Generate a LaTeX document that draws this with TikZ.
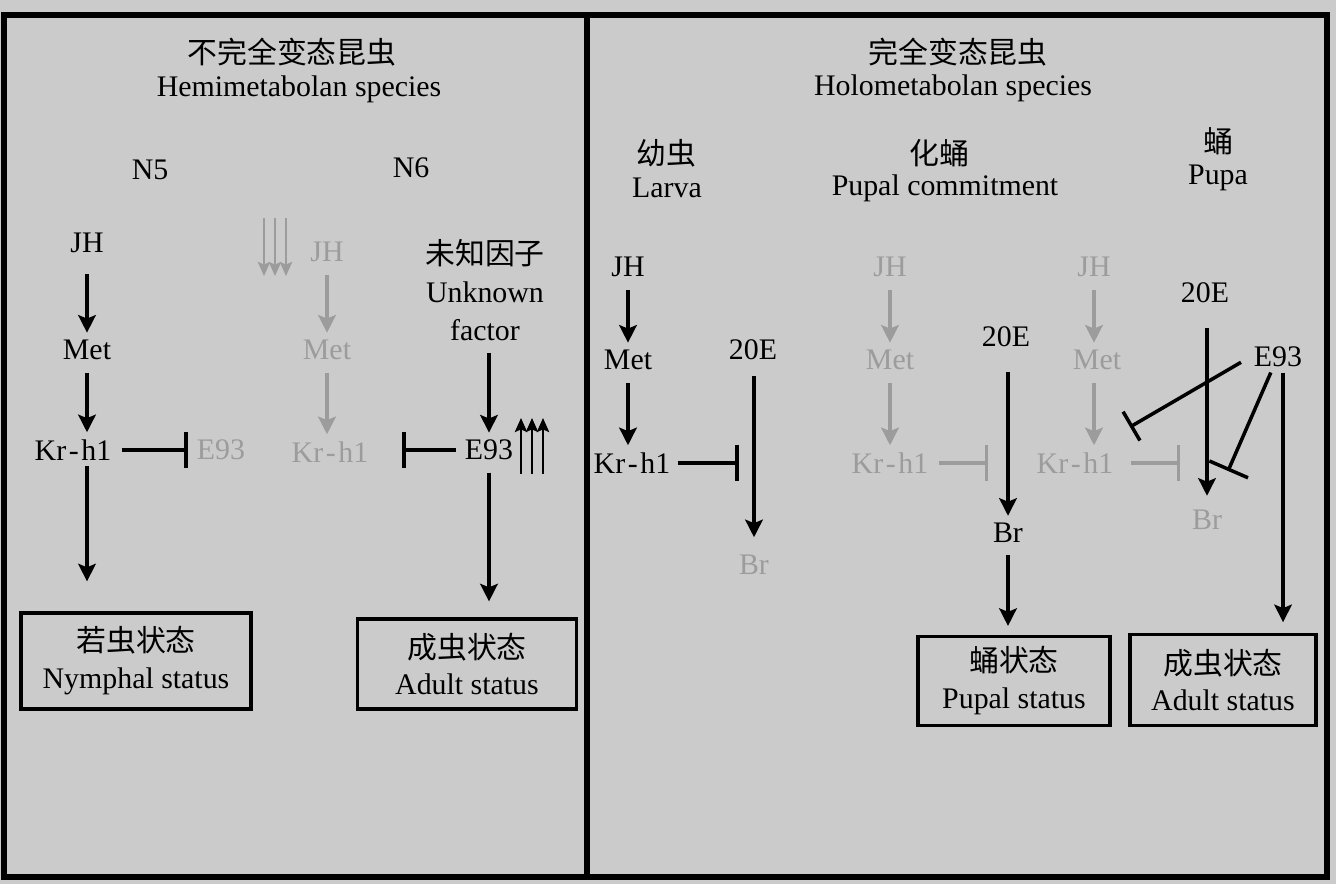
\documentclass[tikz,border=0pt]{standalone}
\usepackage{fontspec}
\setmainfont{Liberation Serif}
\newfontfamily\cjk{Noto Sans CJK SC}
\usetikzlibrary{arrows.meta,calc}
\definecolor{bggray}{HTML}{CBCBCB}
\definecolor{offgray}{HTML}{9C9C9C}
\newcommand\labfont{\fontsize{17}{21}\selectfont}
\newcommand\krh{Kr\kern1.5pt-\kern1.5pt h1}
\tikzset{
  lbl/.style={font=\labfont, inner sep=2pt},
  off/.style={lbl, text=offgray},
  arr/.style={line width=2pt, -{Stealth[length=10pt,width=10pt,inset=2pt]}, shorten <=5pt, shorten >=2pt},
  garr/.style={arr, draw=offgray},
  inh/.style={line width=2pt, -{Bar[width=20pt]}, shorten <=4pt, shorten >=3pt},
  ginh/.style={inh, draw=offgray},
  tri/.style={line width=1.3pt, -{Stealth[length=8pt,width=7pt,inset=1.5pt]}},
  statebox/.style={draw, line width=2pt, font=\labfont, align=center, inner sep=2pt},
  frame/.style={line width=3pt}
}
\begin{document}
\begin{tikzpicture}[x=0.02cm, y=-0.02cm]
    \fill[bggray] (0,0) rectangle (1336,884);
    \useasboundingbox (0,0) rectangle (1336,884);
    \draw[frame] (4,15) rectangle (1327,877); % Outer frame
    \draw[frame] (587,15) -- (587,877); % Divider

    % Hemimetabolan species
    \node[lbl] (hemicn) at (292,52) {\cjk 不完全变态昆虫};
    \node[lbl] (hemien) at (299,89) {Hemimetabolan species};
    \node[lbl] (n5) at (150,170) {N5};
    \node[lbl] (n6) at (411,168) {N6};
    \node[lbl] (jh1) at (87,243) {JH};
    \node[lbl] (met1) at (87,350) {Met};
    \node[lbl] (kr1) at (73,450) {\krh};
    \node[off] (e93off) at (221,450) {E93};
    \node[off] (jh2) at (327,252) {JH};
    \node[off] (met2) at (327,350) {Met};
    \node[off] (kr2) at (330,452) {\krh};
    \node[lbl] (unkcn) at (485,253) {\cjk 未知因子};
    \node[lbl] (unken) at (485,292) {Unknown};
    \node[lbl] (unkfac) at (485,330) {factor};
    \node[lbl] (e93a) at (489,450) {E93};
    \node[statebox, minimum width=4.6cm, minimum height=1.92cm] (nymph) at (136,661) {{\cjk 若虫状态}\\Nymphal status};
    \node[statebox, minimum width=4.38cm, minimum height=1.8cm] (adult1) at (467,664) {{\cjk 成虫状态}\\Adult status};

    \draw[arr, shorten <=10pt] (jh1) -- (met1);
    \draw[arr] (met1) -- (met1 |- kr1.north);
    \draw[inh] (kr1.east) -- (e93off.west);
    \draw[arr, shorten <=1pt, shorten >=17pt] (met1 |- kr1.south) -- (met1 |- nymph.north);
    \draw[garr] (jh2) -- (met2);
    \draw[garr] (met2) -- (met2 |- kr2.north);
    \draw[inh, shorten <=3pt, shorten >=17pt] (e93a.west) -- (kr2.east |- e93a.west);
    \draw[arr] (e93a |- unkfac.south) -- (e93a.north);
    \draw[arr, shorten >=9pt] (e93a) -- (e93a |- adult1.north);
    \foreach \x in {521,532,543} \draw[tri] (\x,474) -- (\x,418);
    \foreach \x in {264,275,286} \draw[tri, offgray] (\x,218) -- (\x,276);

    % Holometabolan species
    \node[lbl] (holocn) at (958,52) {\cjk 完全变态昆虫};
    \node[lbl] (holoen) at (953,88) {Holometabolan species};
    \node[lbl] (larcn) at (666,153) {\cjk 幼虫};
    \node[lbl] (laren) at (667,188) {Larva};
    \node[lbl] (pccn) at (939,153) {\cjk 化蛹};
    \node[lbl] (pcen) at (945,188) {Pupal commitment};
    \node[lbl] (pucn) at (1218,141) {\cjk 蛹};
    \node[lbl] (puen) at (1218,178) {Pupa};

    % larva
    \node[lbl] (jh3) at (628,267) {JH};
    \node[lbl] (met3) at (628,360) {Met};
    \node[lbl] (kr3) at (632,463) {\krh};
    \node[lbl] (e20a) at (753,350) {20E};
    \node[off] (br1) at (754,565) {Br};
    \draw[arr] (jh3) -- (met3);
    \draw[arr] (met3) -- (met3 |- kr3.north);
    \draw[inh, shorten <=2pt, shorten >=8pt] (kr3.east) -- (e20a |- kr3.east);
    \draw[arr, shorten <=7pt, shorten >=8pt] (br1 |- e20a.south) -- (br1.north);

    % pupal commitment
    \node[off] (jh4) at (890,267) {JH};
    \node[off] (met4) at (890,360) {Met};
    \node[off] (kr4) at (890,463) {\krh};
    \node[lbl] (e20b) at (1006,337) {20E};
    \node[lbl] (br2) at (1008,533) {Br};
    \node[statebox, minimum width=3.84cm, minimum height=1.78cm] (pupal) at (1014,681) {{\cjk 蛹状态}\\Pupal status};
    \draw[garr] (jh4) -- (met4);
    \draw[garr] (met4) -- (kr4);
    \draw[ginh, shorten >=10pt] (kr4.east) -- (e20b |- kr4.east);
    \draw[arr, shorten <=12pt] (br2 |- e20b.south) -- (br2.north);
    \draw[arr, shorten >=5pt] (br2) -- (br2 |- pupal.north);

    % pupa
    \node[off] (jh5) at (1094,267) {JH};
    \node[off] (met5) at (1097,360) {Met};
    \node[off] (kr5) at (1075,463) {\krh};
    \node[lbl] (e20c) at (1205,293) {20E};
    \node[off] (br3) at (1207,520) {Br};
    \node[lbl] (e93b) at (1278,357) {E93};
    \node[statebox, minimum width=3.72cm, minimum height=1.82cm] (adult2) at (1223,680) {{\cjk 成虫状态}\\Adult status};
    \coordinate (metbar) at (1130,427);
    \coordinate (brbar) at (1228,471);
    \draw[garr] (jh5) -- (jh5 |- met5.north);
    \draw[garr] (jh5 |- met5.south) -- (jh5 |- kr5.north);
    \draw[ginh, shorten <=8pt, shorten >=14pt] (kr5.east) -- (e20c |- kr5.east);
    \draw[arr, shorten <=12pt, shorten >=6pt] (br3 |- e20c.south) -- (br3.north);
    \draw[inh, -{Bar[width=19pt]}, shorten <=6pt, shorten >=0pt] (e93b.west) -- (metbar);
    \draw[inh, -{Bar[width=24pt]}, shorten <=1pt, shorten >=0pt] (e93b.-115) -- (brbar);
    \draw[arr, shorten <=1pt, shorten >=6pt] (e93b.-70) -- (e93b.-70 |- adult2.north);
\end{tikzpicture}
\end{document}
